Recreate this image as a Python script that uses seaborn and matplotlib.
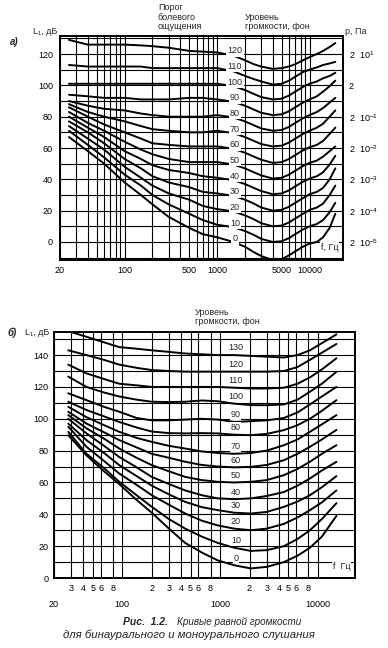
import matplotlib
matplotlib.use("Agg")
import matplotlib.pyplot as plt
import seaborn as sns
import pandas as pd
from matplotlib.ticker import FixedLocator, FixedFormatter, NullFormatter

# ---- panel a): equal loudness, binaural (f in Hz, level in dB)
FREQ_A = [25, 40, 60, 100, 150, 200, 300, 500, 700, 1000, 1500, 2000, 2500, 3000,
          4000, 5000, 6000, 7000, 8500, 10000, 12000, 14000, 16500, 19000]
LEVELS_A = {
    0:   [67, 58, 50, 38, 30, 24, 16, 9, 5, 3, 0, -3, -6.5, -9,
          -11.5, -11, -8.5, -6, -3, -1, 0, 3, 9, 18],
    10:  [71, 62, 54, 43, 36, 30, 24, 18, 14, 11, 9.5, 7, 4.5, 2,
          0, 0.5, 2.5, 5, 8, 10, 11.5, 14, 19, 25],
    20:  [74, 66, 59, 48, 41, 36, 31, 27, 23, 21, 19.5, 17, 14.5, 12,
          10, 10.5, 12.5, 15, 18, 20.5, 22, 24.5, 30, 36],
    30:  [77, 70, 63, 53, 47, 42, 38, 35, 32, 31, 29.5, 27, 24.5, 22,
          20, 20.5, 22.5, 25, 28, 30.5, 32, 34.5, 40, 47],
    40:  [80, 73, 67, 58, 53, 49, 46, 44, 42, 41, 39.5, 37, 34.5, 32.5,
          30.5, 31, 33, 35.5, 38.5, 40.5, 42, 44.5, 49.5, 55],
    50:  [83, 76, 71, 64, 59, 56, 53, 51, 51, 51, 49.5, 47, 44.5, 42.5,
          40.5, 41, 43, 45.5, 48.5, 50.5, 52, 54.5, 58, 61],
    60:  [86, 80, 75, 70, 66, 63, 62, 61, 61, 61, 59.5, 57, 54.5, 52.5,
          50.5, 51, 53, 55.5, 58.5, 60.5, 62, 64.5, 69, 73],
    70:  [88, 83, 80, 77, 74, 72, 71, 70, 70, 71, 69.5, 67, 64.5, 62.5,
          61, 61.5, 63.5, 66, 69, 71, 73, 75.5, 80, 84],
    80:  [90, 87, 85, 84, 82, 81, 80, 80, 80, 81, 79.5, 77, 74.5, 72.5,
          71, 71.5, 73.5, 76, 79, 81, 83, 85.5, 89, 92],
    90:  [94, 93, 92, 92, 91, 91, 91, 92, 92, 91, 89.5, 87, 84.5, 82.5,
          81, 81.5, 83.5, 86, 89, 91, 93, 96, 99.5, 103],
    100: [101, 101, 101, 101, 101, 101, 101, 101, 101, 101, 99.5, 97, 94.5, 92.5,
          91, 91.5, 93.5, 96, 99, 101, 102.5, 104.5, 106, 108],
    110: [113, 112, 112, 112, 112, 111, 111, 111, 111, 111, 109, 106, 104, 102.5,
          100.5, 101, 103, 105.5, 108.5, 110, 111.5, 113, 114, 115],
    120: [129, 126, 126, 126, 125.5, 125, 124, 122, 121.5, 121, 119, 116, 113.5, 112,
          110.5, 111, 112, 113.5, 116, 118, 120, 122, 124.5, 127],
}
PRESSURE_DB = [120, 100, 80, 60, 40, 20, 0]
PRESSURE_LABELS = ["2  10$^{1}$", "2", "2  10$^{-1}$", "2  10$^{-2}$",
                   "2  10$^{-3}$", "2  10$^{-4}$", "2  10$^{-5}$"]

# ---- panel b): equal loudness, binaural and monaural
FREQ_B = [28, 43, 65, 93, 140, 200, 300, 440, 650, 950, 1400, 2060, 3000, 4500,
          6200, 8300, 11000, 15500]
LEVELS_B = {
    0:   [89.7, 77, 67, 59, 49, 41, 31, 22, 16, 11, 8, 6, 7, 10, 14, 19, 26, 39],
    10:  [91.8, 78, 69, 60.4, 52, 44.7, 37, 31, 26, 22, 19, 17, 17.5, 20, 24.5, 30, 37, 47],
    20:  [95, 82.4, 73.5, 65.6, 58.5, 52, 46, 40.5, 36, 33, 31, 30, 31, 34, 38, 42.6, 47.5, 55],
    30:  [97, 86.6, 78.5, 70.9, 64, 58, 52.5, 47.8, 44.5, 42.6, 41, 40.5, 41.5, 44.7, 48, 52, 57, 64],
    40:  [100, 90.8, 83, 76, 69.5, 63.5, 59, 55, 52, 50, 49.5, 50, 51.5, 54, 58, 62.5, 67.5, 73],
    50:  [102.3, 94, 87.5, 81.3, 75.5, 70.9, 67, 63.5, 61.5, 60.4, 60, 60.4, 61.5, 64.6, 68.5, 73, 78, 83.4],
    60:  [104.4, 97, 91.5, 86.6, 82, 78, 75.5, 73, 71, 70, 69.5, 69.8, 71, 74, 78, 82.4, 87, 93],
    70:  [107.5, 101, 96, 91.8, 88, 85.5, 83, 81.3, 79.5, 78.5, 78, 78.5, 80, 83.4, 87, 91.8, 96.5, 102.3],
    80:  [110.7, 105.5, 101.5, 98, 94.5, 92, 91, 90.8, 91, 90.8, 90, 89.7, 90.5, 92.9, 96, 100, 105, 111.7],
    90:  [116, 111.7, 107.5, 104.4, 100.5, 99, 99, 99.5, 100, 99.5, 98, 98.5, 99, 100.5, 104, 109, 114, 120],
    100: [126.5, 120, 116.5, 114, 112, 110.7, 110.5, 110.7, 111.5, 111, 109.5, 108.6, 108.5, 109, 112, 117, 122, 129.5],
    110: [134, 128.5, 125, 122, 121, 120, 120, 120, 120, 120, 119.5, 119, 119, 119.5, 122, 126, 131, 138],
    120: [143, 140, 137, 134, 132, 130.6, 130, 129.6, 129.6, 129.6, 129.6, 129.6, 129.6, 130, 132.5, 137, 141.5, 147],
    130: [155, 151.5, 148, 145, 144, 143, 142, 141, 140.5, 140, 140, 139.5, 139, 138.5, 140, 143, 147.5, 153],
}

XTICKS_A = [20, 100, 500, 1000, 5000, 10000]
XGRID_A = [30, 40, 50, 60, 70, 80, 90, 200, 300, 400, 600, 700, 800, 900,
           2000, 3000, 4000, 6000, 7000, 8000, 9000]
XTICKS_B = [20, 100, 1000, 10000]
XMINOR_B = [30, 40, 50, 60, 80, 200, 300, 400, 500, 600, 800,
            2000, 3000, 4000, 5000, 6000, 8000]
XMINOR_B_LABELS = ["3", "4", "5", "6", "8", "2", "3", "4", "5", "6", "8",
                   "2", "3", "4", "5", "6", "8"]

W, H = 388, 648


def fx(x):
    return x / W


def fy(y):
    return 1 - y / H


def to_long(freqs, levels):
    rows = []
    for phon, vals in levels.items():
        for f, v in zip(freqs, vals):
            rows.append({"f": f, "L": v, "phon": phon})
    return pd.DataFrame(rows)


sns.set_theme(style="white")
plt.rcParams["font.family"] = ["Liberation Sans", "DejaVu Sans"]
plt.rcParams["mathtext.fontset"] = "custom"
plt.rcParams["mathtext.rm"] = "Liberation Sans"
plt.rcParams["mathtext.it"] = "Liberation Sans:italic"

fig = plt.figure(figsize=(W / 100, H / 100), dpi=100)
fig.patch.set_facecolor("white")

FS = 6.5


def style_axes(ax):
    ax.set_facecolor("white")
    for s in ax.spines.values():
        s.set_color("black")
        s.set_linewidth(1.4)
    ax.grid(True, which="both", color="black", linewidth=0.8)
    ax.set_axisbelow(True)
    ax.set_xlabel("")
    ax.set_ylabel("")


# ---------------- panel a
ax_a = fig.add_axes([fx(60), fy(260), (343 - 60) / W, (260 - 36) / H])
df_a = to_long(FREQ_A, LEVELS_A)
sns.lineplot(data=df_a, x="f", y="L", units="phon", estimator=None,
             color="black", linewidth=1.4, ax=ax_a, zorder=3)
ax_a.set_xscale("log")
ax_a.set_xlim(20, 23000)
ax_a.set_ylim(-11.5, 131.5)
ax_a.xaxis.set_major_locator(FixedLocator(XTICKS_A))
ax_a.xaxis.set_major_formatter(FixedFormatter([str(v) for v in XTICKS_A]))
ax_a.xaxis.set_minor_locator(FixedLocator(XGRID_A))
ax_a.xaxis.set_minor_formatter(NullFormatter())
ax_a.yaxis.set_major_locator(FixedLocator(list(range(0, 121, 20))))
ax_a.yaxis.set_minor_locator(FixedLocator(list(range(-10, 131, 20))))
ax_a.tick_params(which="both", length=0, labelsize=FS, colors="black")
ax_a.tick_params(axis="x", pad=4)
ax_a.tick_params(axis="y", pad=5)
style_axes(ax_a)

sec = ax_a.secondary_yaxis("right")
sec.yaxis.set_major_locator(FixedLocator(PRESSURE_DB))
sec.yaxis.set_major_formatter(FixedFormatter(PRESSURE_LABELS))
sec.tick_params(length=0, labelsize=FS, pad=4, colors="black")
sec.spines["right"].set_visible(False)

for phon in LEVELS_A:
    ax_a.text(1560, phon + 2, str(phon), ha="center", va="center",
              fontsize=FS, zorder=5,
              bbox=dict(facecolor="white", edgecolor="none", pad=0.9))
ax_a.text(0.985, 0.035, "f, Гц", transform=ax_a.transAxes, ha="right", va="bottom",
          fontsize=FS, zorder=6, bbox=dict(facecolor="white", edgecolor="none", pad=0.5))

fig.text(fx(10), fy(42), "а)", fontsize=7, style="italic", weight="bold", va="center")
fig.text(fx(33), fy(32), "L₁, дБ", fontsize=FS, va="center")
fig.text(fx(158), fy(17), "Порог\nболевого\nощущения", fontsize=FS, va="center",
         linespacing=1.05)
fig.text(fx(245), fy(22), "Уровень\nгромкости, фон", fontsize=FS, va="center",
         linespacing=1.05)
fig.text(fx(345), fy(32), "p, Па", fontsize=FS, va="center")

# ---------------- panel b
ax_b = fig.add_axes([fx(54), fy(578), (355 - 54) / W, (578 - 332) / H])
df_b = to_long(FREQ_B, LEVELS_B)
sns.lineplot(data=df_b, x="f", y="L", units="phon", estimator=None,
             color="black", linewidth=1.4, ax=ax_b, zorder=3)
ax_b.set_xscale("log")
ax_b.set_xlim(20, 24000)
ax_b.set_ylim(0, 154.5)
ax_b.xaxis.set_major_locator(FixedLocator(XTICKS_B))
ax_b.xaxis.set_major_formatter(FixedFormatter([str(v) for v in XTICKS_B]))
ax_b.xaxis.set_minor_locator(FixedLocator(XMINOR_B))
ax_b.xaxis.set_minor_formatter(FixedFormatter(XMINOR_B_LABELS))
ax_b.yaxis.set_major_locator(FixedLocator(list(range(0, 141, 20))))
ax_b.yaxis.set_minor_locator(FixedLocator(list(range(10, 151, 20))))
ax_b.tick_params(which="both", length=0, labelsize=FS, colors="black")
ax_b.tick_params(axis="x", which="minor", pad=4)
ax_b.tick_params(axis="x", which="major", pad=16)
ax_b.tick_params(axis="y", pad=4)
style_axes(ax_b)

for phon, vals in LEVELS_B.items():
    ax_b.text(1450, vals[FREQ_B.index(1400)] + 4.5, str(phon), ha="center", va="center",
              fontsize=FS, zorder=5,
              bbox=dict(facecolor="white", edgecolor="none", pad=0.4))
ax_b.text(0.985, 0.03, "f  Гц", transform=ax_b.transAxes, ha="right", va="bottom",
          fontsize=FS, zorder=6, bbox=dict(facecolor="white", edgecolor="none", pad=0.5))

fig.text(fx(8), fy(333), "б)", fontsize=7, style="italic", weight="bold", va="center")
fig.text(fx(25), fy(333), "L₁, дБ", fontsize=FS, va="center")
fig.text(fx(195), fy(317), "Уровень\nгромкости, фон", fontsize=FS, va="center",
         linespacing=1.05)

# ---------------- caption
fig.text(fx(123), fy(622), "Рис.  1.2.", fontsize=7.5, style="italic", weight="bold",
         va="center")
fig.text(fx(177), fy(622), "Кривые равной громкости", fontsize=7.1, style="italic",
         va="center")
fig.text(fx(63), fy(635), "для бинаурального и моноурального слушания", fontsize=8.2,
         style="italic", va="center")

fig.savefig("out.png", dpi=100)
